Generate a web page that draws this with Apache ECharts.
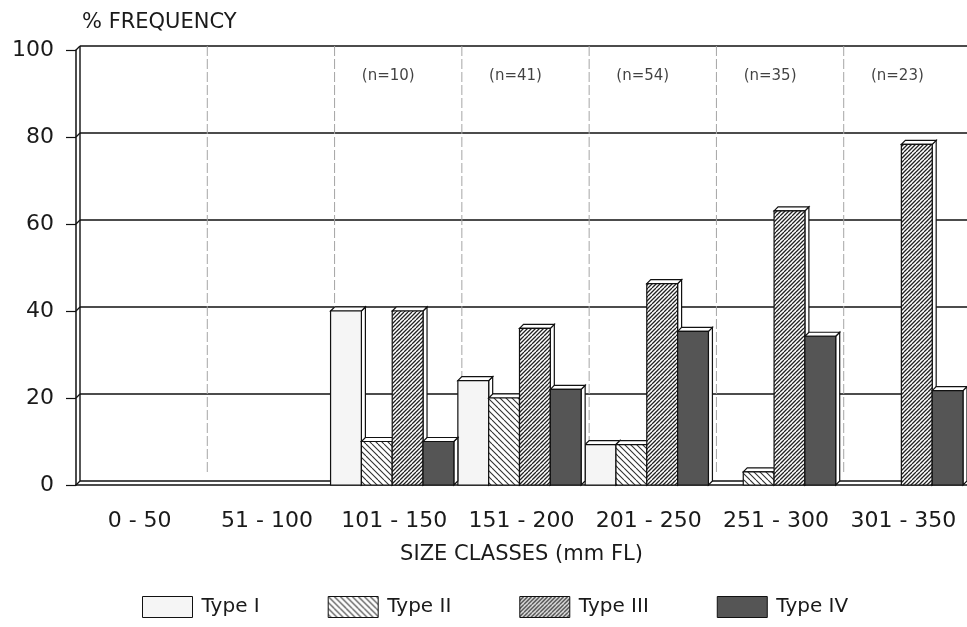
<!DOCTYPE html>
<html><head><meta charset="utf-8">
<script src="https://cdn.jsdelivr.net/npm/echarts@6/dist/echarts.min.js"></script>
<style>html,body{margin:0;padding:0;background:#fff}#c{width:967px;height:627px}</style>
</head><body><div id="c"></div>
<script>
const categories = ['0 - 50','51 - 100','101 - 150','151 - 200','201 - 250','251 - 300','301 - 350'];
const typeNames = ['Type I','Type II','Type III','Type IV'];
const typeI   = [0, 0, 40, 24, 9.3, 0, 0];
const typeII  = [0, 0, 10, 20, 9.3, 3, 0];
const typeIII = [0, 0, 40, 36, 46.3, 63, 78.3];
const typeIV  = [0, 0, 10, 22, 35.3, 34.2, 21.7];
const sampleLabels = ['', '', '(n=10)', '(n=41)', '(n=54)', '(n=35)', '(n=23)'];
const yTicks = [0, 20, 40, 60, 80, 100];

const FONT = 'DejaVu Sans';
const TXT = '#1a1a1a';
const D = 4;

function hatch(size, step, dir, lw, color) {
  const cv = document.createElement('canvas');
  cv.width = size; cv.height = size;
  const g = cv.getContext('2d');
  g.fillStyle = '#fff'; g.fillRect(0, 0, size, size);
  g.strokeStyle = color; g.lineWidth = lw;
  g.beginPath();
  for (let k = -size; k <= size * 2; k += step) {
    if (dir > 0) { g.moveTo(k, size); g.lineTo(k + size, 0); }
    else { g.moveTo(k, 0); g.lineTo(k + size, size); }
  }
  g.stroke();
  return cv;
}
const fills = [
  '#f5f5f5',
  { image: hatch(12, 6, -1, 1.1, '#333'), repeat: 'repeat' },
  { image: hatch(8, 4, 1, 1.3, '#222'), repeat: 'repeat' },
  '#555555'
];
const seriesData = [typeI, typeII, typeIII, typeIV];

function barRender(idx) {
  return function (params, api) {
    const c = api.value(0), v = api.value(1);
    if (!v) return null;
    const cw = api.size([1, 0])[0];
    const p0 = api.coord([c, 0]), p1 = api.coord([c, v]);
    const bw = (cw - D) / 4;
    const x0 = p0[0] - cw / 2 + idx * bw, x1 = x0 + bw;
    const yb = p0[1], yt = p1[1];
    const st = { stroke: '#111', lineWidth: 1.2 };
    return { type: 'group', children: [
      { type: 'polygon', shape: { points: [[x1, yt], [x1 + D, yt - D], [x1 + D, yb - D], [x1, yb]] }, style: Object.assign({ fill: '#fff' }, st) },
      { type: 'polygon', shape: { points: [[x0, yt], [x0 + D, yt - D], [x1 + D, yt - D], [x1, yt]] }, style: Object.assign({ fill: '#fff' }, st) },
      { type: 'rect', shape: { x: x0, y: yt, width: bw, height: yb - yt }, style: Object.assign({ fill: fills[idx] }, st) }
    ]};
  };
}

const chart = echarts.init(document.getElementById('c'), null, { renderer: 'canvas' });

const series = [];
series.push({
  type: 'custom', name: 'wall', z: 1, silent: true,
  data: yTicks.map(v => [0, v]),
  encode: { x: 0, y: 1 },
  renderItem: function (params, api) {
    const v = api.value(1);
    const cw = api.size([1, 0])[0];
    const p = api.coord([0, v]);
    const left = p[0] - cw / 2;
    const right = left + cw * categories.length;
    return { type: 'group', children: [
      { type: 'line', shape: { x1: left + D, y1: p[1] - D, x2: right + D, y2: p[1] - D }, style: { stroke: '#111', lineWidth: 1.4 } },
      { type: 'line', shape: { x1: left, y1: p[1], x2: left + D, y2: p[1] - D }, style: { stroke: '#111', lineWidth: 1.2 } }
    ]};
  }
});
series.push({
  type: 'custom', name: 'wallv', z: 1, silent: true,
  data: categories.map((c, i) => [i, 0]),
  encode: { x: 0, y: 1 },
  renderItem: function (params, api) {
    const i = api.value(0);
    const cw = api.size([1, 0])[0];
    const p0 = api.coord([i, 0]), p1 = api.coord([i, 100]);
    const x = p0[0] - cw / 2 + D;
    if (i === 0) {
      return { type: 'line', shape: { x1: x, y1: p1[1] - D, x2: x, y2: p0[1] - D }, style: { stroke: '#111', lineWidth: 1.4 } };
    }
    return { type: 'line', shape: { x1: x, y1: p1[1] - D, x2: x, y2: p0[1] - D - 8 }, style: { stroke: '#a5a5a5', lineWidth: 1, lineDash: [10, 3] } };
  }
});
seriesData.forEach((arr, idx) => {
  series.push({
    type: 'custom', name: typeNames[idx], z: 3,
    itemStyle: { color: fills[idx], borderColor: '#111', borderWidth: 1 },
    data: arr.map((v, i) => [i, v]),
    encode: { x: 0, y: 1 },
    renderItem: barRender(idx)
  });
});
series.push({
  type: 'scatter', name: 'n', z: 4, symbolSize: 0, silent: true,
  data: sampleLabels.map((s, i) => [i, 94]),
  label: { show: true, position: 'inside', offset: [-6, 0], formatter: p => sampleLabels[p.dataIndex], fontFamily: FONT, fontSize: 15, color: '#111' }
});

chart.setOption({
  animation: false,
  backgroundColor: '#fff',
  grid: { left: 76, top: 50, width: 896, bottom: 142, containLabel: false },
  legend: {
    data: typeNames, left: 142, top: 596, padding: 0, itemWidth: 50, itemHeight: 21, itemGap: 68,
    icon: 'rect',
    itemStyle: { borderColor: '#111', borderWidth: 1 },
    textStyle: { fontFamily: FONT, fontSize: 20, color: TXT, padding: [0, 0, 0, 4] }
  },
  xAxis: {
    type: 'category', data: categories,
    name: 'SIZE CLASSES (mm FL)', nameLocation: 'middle', nameGap: 59,
    nameTextStyle: { fontFamily: FONT, fontSize: 21, color: TXT },
    axisLine: { lineStyle: { color: '#111', width: 1.5 } },
    axisTick: { alignWithLabel: true, length: 8, lineStyle: { color: '#111', width: 1.2 } },
    axisLabel: { margin: 25, fontFamily: FONT, fontSize: 22, color: TXT, interval: 0 },
    splitLine: { show: false }
  },
  yAxis: {
    type: 'value', min: 0, max: 100, interval: 20,
    name: '% FREQUENCY', nameLocation: 'end', nameGap: 27,
    nameTextStyle: { fontFamily: FONT, fontSize: 21, color: TXT, align: 'left', verticalAlign: 'middle', padding: [0, 0, 0, 6] },
    axisLine: { show: true, lineStyle: { color: '#111', width: 1.5 } },
    axisTick: { show: true, length: 10, lineStyle: { color: '#111', width: 1.2 } },
    axisLabel: { margin: 22, fontFamily: FONT, fontSize: 22, color: TXT },
    splitLine: { show: false }
  },
  series: series
});
</script>
</body></html>
